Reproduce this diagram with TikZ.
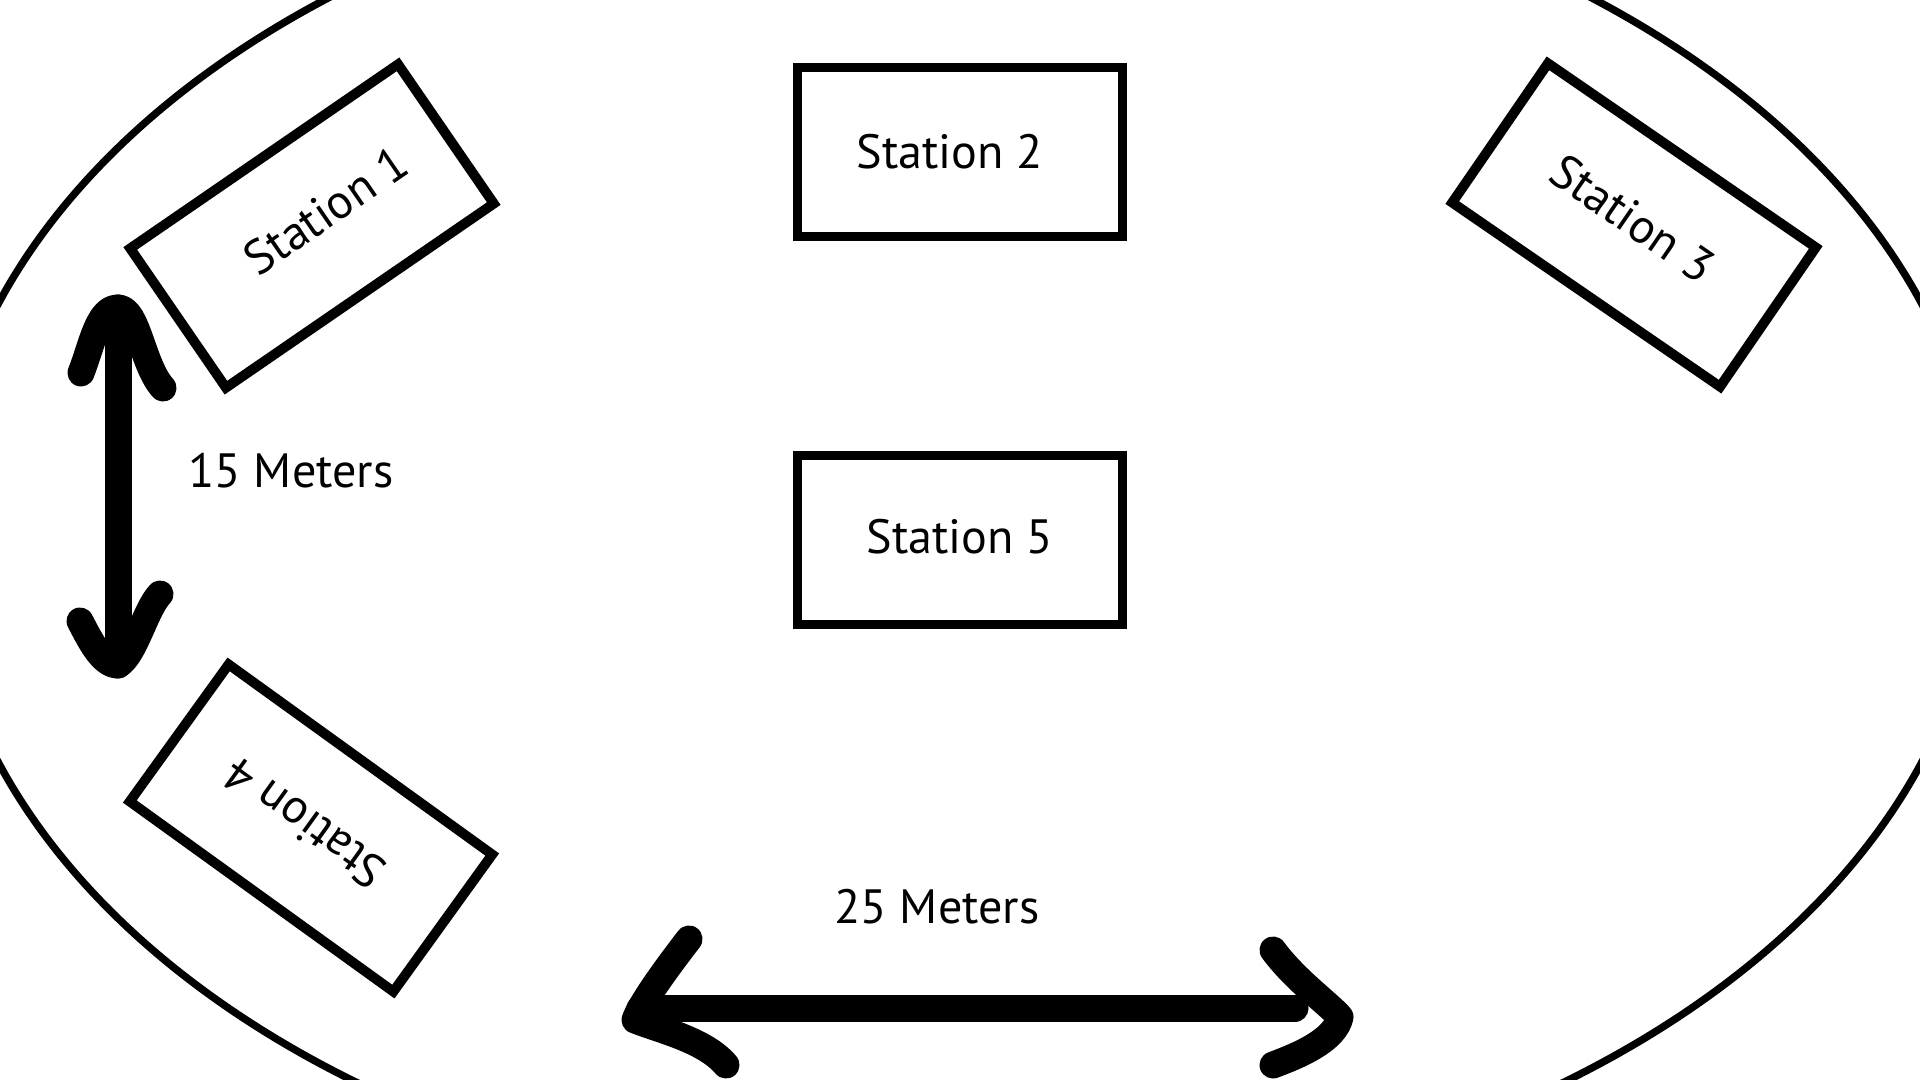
\documentclass[tikz,border=0pt]{standalone}
\usepackage{fontspec}
\setmainfont{PT Sans}

\begin{document}
\begin{tikzpicture}[station/.style = {draw, rectangle, line width=2.8pt, minimum width=32.5mm, minimum height=16.9mm, inner sep=0pt}, node distance={38.8mm}, arrow/.style = {line width=2.7mm, line cap=round, line join=round}, font=\fontsize{13.7}{16}\selectfont]
\useasboundingbox (0,0) rectangle (19.2,-10.8);
\clip (0,0) rectangle (19.2,-10.8);
\draw[line width=2.1pt] (9.60,-5.33) ellipse [x radius=10.21, y radius=6.81];
\node[station] (2) at (9.60,-1.52) {Station 2\hspace*{2mm}};
\node[station] (5) [below of=2] {\raisebox{0.8mm}{Station 5}};
\node[station, rotate=34.5] (1) at (3.12,-2.26) {\hspace*{4mm}\raisebox{1mm}{Station 1}};
\node[station, rotate=-34.5] (3) at (16.34,-2.25) {\raisebox{1mm}{Station 3}\hspace*{1mm}};
\node[station, rotate=144.2] (4) at (3.11,-8.28) {\hspace*{1.6mm}\raisebox{-1.1mm}{Station 4}};
\node (m15) at (2.91,-4.71) {15 Meters};
\node (m25) at (9.37,-9.07) {25 Meters};
% 15 m
\coordinate (t) at (1.18,-3.08);
\coordinate (b) at (1.18,-6.65);
\draw[arrow] (t) -- (b);
\draw[arrow] (0.81,-3.73) .. controls (0.92,-3.45) and (0.98,-3.08) .. (t) .. controls (1.38,-3.08) and (1.42,-3.65) .. (1.63,-3.88);
\draw[arrow] (0.80,-6.21) .. controls (0.90,-6.40) and (1.02,-6.65) .. (b) .. controls (1.35,-6.55) and (1.45,-6.10) .. (1.60,-5.94);
% 25 m
\coordinate (l) at (6.40,-10.08);
\coordinate (r) at (12.95,-10.08);
\draw[arrow] (l) -- (r);
\draw[arrow] (6.89,-9.39) .. controls (6.65,-9.70) and (6.40,-10.05) .. (6.35,-10.20) .. controls (6.60,-10.30) and (7.05,-10.40) .. (7.26,-10.65);
\draw[arrow] (12.73,-9.50) .. controls (12.95,-9.80) and (13.30,-10.05) .. (13.40,-10.17) .. controls (13.35,-10.40) and (13.00,-10.55) .. (12.73,-10.65);
\end{tikzpicture}
\end{document}
